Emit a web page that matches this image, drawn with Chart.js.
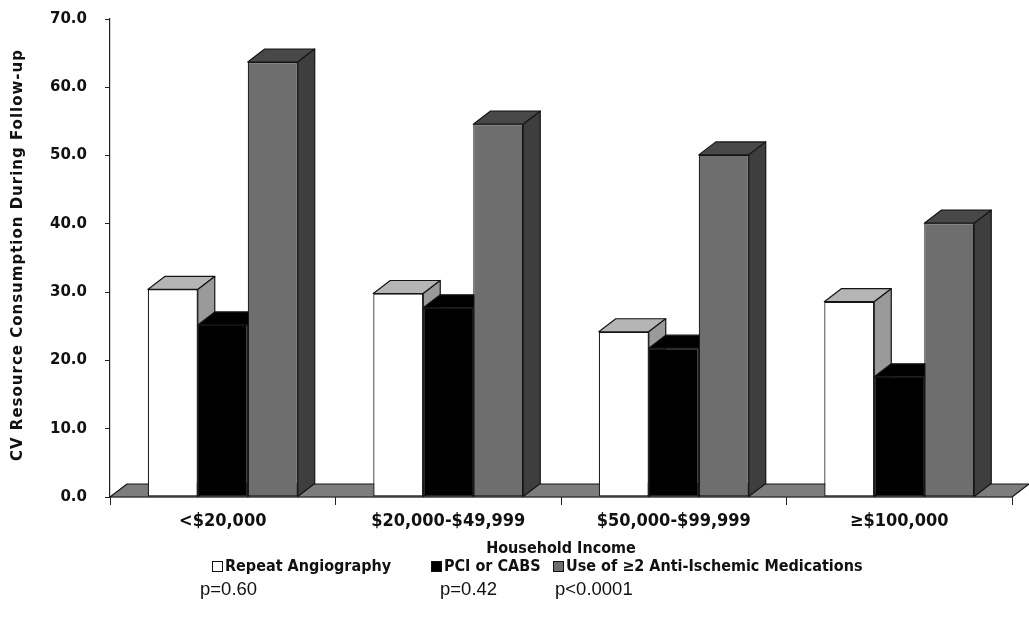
<!DOCTYPE html>
<html>
<head>
<meta charset="utf-8">
<script src="https://cdn.jsdelivr.net/npm/chart.js@4.4.1/dist/chart.umd.min.js"></script>
<style>
  html, body { margin: 0; padding: 0; background: #fff; }
  #wrap { width: 1029px; height: 633px; position: relative; }
</style>
</head>
<body>
<div id="wrap"><canvas id="chart"></canvas></div>
<script>
const incomeGroups = ["<$20,000", "$20,000-$49,999", "$50,000-$99,999", "≥$100,000"];
const seriesNames = ["Repeat Angiography", "PCI or CABS", "Use of ≥2 Anti-Ischemic Medications"];
const pValues = ["p=0.60", "p=0.42", "p<0.0001"];
const repeatAngio = [30.4, 29.8, 24.2, 28.6];
const pciCabs = [25.2, 27.7, 21.8, 17.6];
const antiIschemic = [63.7, 54.6, 50.1, 40.1];
const yTicks = [0, 10, 20, 30, 40, 50, 60, 70];

// front / top / side shades for each series
const faces = [
  { front: "#ffffff", top: "#b5b5b5", side: "#9a9a9a" },
  { front: "#000000", top: "#000000", side: "#000000" },
  { front: "#6e6e6e", top: "#484848", side: "#3e3e3e" }
];
const depthX = 17, depthY = -13;
const edge = "#151515";
const condensed = "'Liberation Sans Narrow', 'DejaVu Sans Condensed', 'Liberation Sans', sans-serif";

function poly(ctx, pts, fill) {
  ctx.beginPath();
  ctx.moveTo(pts[0][0], pts[0][1]);
  for (let i = 1; i < pts.length; i++) ctx.lineTo(pts[i][0], pts[i][1]);
  ctx.closePath();
  ctx.fillStyle = fill;
  ctx.fill();
  ctx.stroke();
}

const bars3d = {
  id: "bars3d",
  beforeDatasetsDraw(chart) {
    const ctx = chart.ctx;
    const area = chart.chartArea;
    const base = chart.scales.y.getPixelForValue(0);
    ctx.save();
    ctx.strokeStyle = edge;
    ctx.lineWidth = 1.2;
    ctx.lineJoin = "round";
    // floor
    poly(ctx, [[area.left, base], [area.right, base],
      [area.right + depthX, base + depthY], [area.left + depthX, base + depthY]], "#7d7d7d");
    // bars, left to right so nearer faces paint last
    const metas = chart.getSortedVisibleDatasetMetas().slice().sort((a, b) => a.index - b.index);
    for (let i = 0; i < incomeGroups.length; i++) {
      metas.forEach(meta => {
        const el = meta.data[i];
        const f = faces[meta.index];
        const l = el.x - el.width / 2, r = el.x + el.width / 2;
        const t = el.y, b = el.base;
        el.draw(ctx);
        ctx.strokeStyle = edge;
        ctx.lineWidth = 1.2;
        poly(ctx, [[l, t], [r, t], [r + depthX, t + depthY], [l + depthX, t + depthY]], f.top);
        poly(ctx, [[r, t], [r + depthX, t + depthY], [r + depthX, b + depthY], [r, b]], f.side);
      });
    }
    ctx.restore();
    return false;
  },
  afterDraw(chart) {
    const ctx = chart.ctx;
    const area = chart.chartArea;
    ctx.save();
    ctx.fillStyle = "#111";
    // y title
    ctx.save();
    ctx.translate(18, 255);
    ctx.rotate(-Math.PI / 2);
    ctx.font = "bold 15px 'DejaVu Sans', sans-serif";
    ctx.letterSpacing = "1px";
    ctx.textAlign = "center";
    ctx.textBaseline = "middle";
    ctx.fillText("CV Resource Consumption During Follow-up", 0, 0);
    ctx.restore();
    // x title
    ctx.font = "bold 16px " + condensed;
    ctx.textAlign = "center";
    ctx.textBaseline = "middle";
    ctx.fillText("Household Income", (area.left + area.right) / 2, 549);
    // legend with p-values
    const boxX = [212, 431, 553];
    const pX = [200, 440, 555];
    ctx.textAlign = "left";
    seriesNames.forEach((name, k) => {
      const x = boxX[k];
      ctx.fillStyle = faces[k].front;
      ctx.strokeStyle = "#111";
      ctx.lineWidth = 1;
      ctx.fillRect(x + 0.5, 561.5, 10, 10);
      ctx.strokeRect(x + 0.5, 561.5, 10, 10);
      ctx.fillStyle = "#111";
      ctx.font = "bold 16px " + condensed;
      ctx.fillText(name, x + 13, 567);
      ctx.font = "18.5px 'Liberation Sans', Arial, sans-serif";
      ctx.fillText(pValues[k], pX[k], 590);
    });
    ctx.restore();
  }
};

new Chart(document.getElementById("chart"), {
  type: "bar",
  plugins: [bars3d],
  data: {
    labels: incomeGroups,
    datasets: [
      { label: seriesNames[0], data: repeatAngio, backgroundColor: faces[0].front },
      { label: seriesNames[1], data: pciCabs, backgroundColor: faces[1].front },
      { label: seriesNames[2], data: antiIschemic, backgroundColor: faces[2].front }
    ]
  },
  options: {
    responsive: true,
    maintainAspectRatio: false,
    animation: false,
    layout: { padding: { left: 0, right: 17, top: 19, bottom: 0 } },
    datasets: {
      bar: {
        categoryPercentage: 0.665,
        barPercentage: 1,
        borderColor: edge,
        borderWidth: 1.2,
        borderSkipped: false
      }
    },
    plugins: {
      legend: { display: false },
      tooltip: { enabled: false }
    },
    scales: {
      x: {
        afterFit: s => { s.height = 136; },
        grid: { display: true, drawOnChartArea: false, offset: true, tickLength: 8, color: "#222", lineWidth: 1 },
        border: { display: true, color: "#222", width: 1.2 },
        ticks: { color: "#111", padding: 6, font: { family: condensed, size: 18, weight: "bold" } }
      },
      y: {
        min: 0,
        max: 70,
        afterFit: s => { s.width = 110; s.paddingTop = 0; s.paddingBottom = 0; },
        afterBuildTicks: s => { s.ticks = yTicks.map(v => ({ value: v })); },
        grid: { display: true, drawOnChartArea: false, tickLength: 5, color: "#222", lineWidth: 1 },
        border: { display: true, color: "#222", width: 1.2 },
        ticks: {
          color: "#111",
          padding: 18,
          font: { family: "'DejaVu Sans', sans-serif", size: 15, weight: "bold" },
          callback: v => v.toFixed(1)
        }
      }
    }
  }
});
</script>
</body>
</html>
